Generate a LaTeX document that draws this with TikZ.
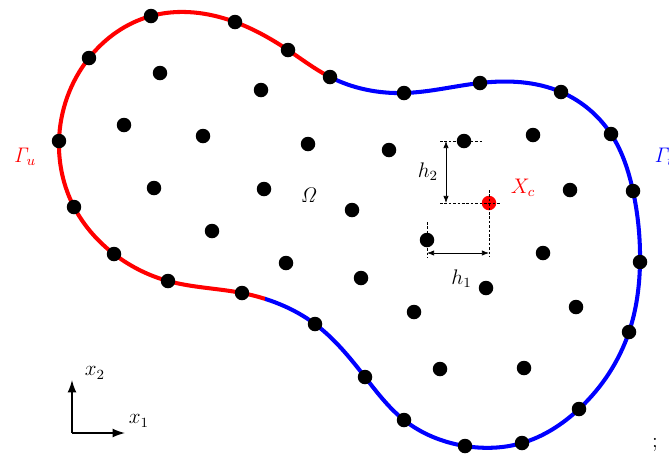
\documentclass[tikz,border=0pt]{standalone}
\usetikzlibrary{arrows.meta,hobby}
\begin{document}
\begin{tikzpicture}[x=0.02cm, y=-0.02cm, every node/.style={font=\large},
  dot/.style={circle,fill=black,inner sep=0pt,minimum size=0.29cm},
  guide/.style={thin,dash pattern=on 1.5pt off 1pt},
  dim/.style={thin,{Latex[length=4pt,width=3pt]}-{Latex[length=4pt,width=3pt]}},
  axis/.style={thick,-{Latex[length=7pt,width=5pt]}}]
\useasboundingbox (0,0) rectangle (669,468);
% boundary: red part (Gamma_u) and blue part (Gamma_t)
\def\bnd{(59,141) (89,58) (151,16) (235,22) (288,50) (330,77) (404,93) (480,83) (561,92) (611,134) (633,191) (640,262) (629,332) (579,409) (522,443) (465,446) (404,420) (365,377) (315,324) (242,293) (168,281) (114,254) (74,207)}
\begin{scope}
\clip (-10,-10) -- (330,-10) -- (330,150) -- (265,290) -- (265,480) -- (-10,480) -- cycle;
\draw[red,line width=2.3pt] plot[closed hobby] coordinates {\bnd};
\end{scope}
\begin{scope}
\clip (330,-10) -- (680,-10) -- (680,480) -- (265,480) -- (265,290) -- (330,150) -- cycle;
\draw[blue,line width=2.3pt] plot[closed hobby] coordinates {\bnd};
\end{scope}
\foreach \p [count=\i] in {(59,141),(89,58),(151,16),(235,22),(288,50),(330,77),(404,93),(480,83),(561,92),(611,134),(633,191),(640,262),(629,332),(579,409),(522,443),(465,446),(404,420),(365,377),(315,324),(242,293),(168,281),(114,254),(74,207)}
  \node[dot] (b\i) at \p {};
% interior points
\foreach \p [count=\i] in {(160,73),(261,90),(124,125),(203,136),(308,144),(389,150),(464,141),(533,135),(154,188),(264,189),(352,210),(570,190),(212,231),(286,263),(361,278),(543,253),(427,240),(486,288),(414,312),(576,307),(440,369),(524,368)}
  \node[dot] (p\i) at \p {};
\node[dot,fill=red] (xc) at (489,203) {};
% spacings h1, h2
\coordinate (h2top) at (446,141);
\coordinate (h2bot) at (446,203);
\coordinate (h1lft) at (427,253);
\coordinate (h1rgt) at (489,253);
\draw[guide] (440,141) -- (p7.center) -- (483,141);
\draw[guide] (440,203) -- (xc.center) -- (500,203);
\draw[guide] (489,190) -- (xc.center) -- (489,256);
\draw[guide] (427,222) -- (p17.center) -- (427,258);
\draw[dim] (h2top) -- (h2bot) node[midway,left=1pt] {$h_2$};
\draw[dim] (h1lft) -- (h1rgt) node[midway,below=6pt,xshift=2pt] {$h_1$};
\node[red] (xclab) at (523,188) {$X_c$};
% labels
\node[red] (gu) at (25,157) {$\mathit{\Gamma}_u$};
\node[blue] (gt) at (664,157) {$\mathit{\Gamma}_t$};
\node (om) at (309,195) {$\mathit{\Omega}$};
% axes
\coordinate (o) at (72,433);
\coordinate (ex) at (125,433);
\coordinate (ey) at (72,380);
\draw[axis] (o) -- (ex);
\draw[axis] (o) -- (ey);
\node (x1) at (139,421) {$x_1$};
\node (x2) at (95,373) {$x_2$};
\node (semi) at (655,445) {;};
\end{tikzpicture}
\end{document}
